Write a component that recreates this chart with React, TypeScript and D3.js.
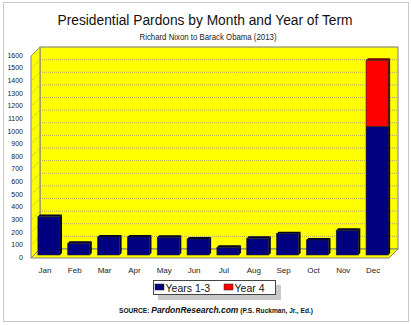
import React from "react";
import * as d3 from "d3";

const months = ["Jan", "Feb", "Mar", "Apr", "May", "Jun", "Jul", "Aug", "Sep", "Oct", "Nov", "Dec"];
const years13 = [304, 93, 143, 143, 140, 127, 61, 132, 169, 119, 196, 1018];
const year4 = [0, 0, 0, 0, 0, 0, 0, 0, 0, 0, 0, 524];
const yTicks = [0, 100, 200, 300, 400, 500, 600, 700, 800, 900, 1000, 1100, 1200, 1300, 1400, 1500, 1600];
const seriesNames = ["Years 1-3", "Year 4"];
const seriesColors = ["#000080", "#ff0000"];
const seriesSide = ["#00002a", "#6a0000"];

const FONT = "'Liberation Sans', Arial, Helvetica, sans-serif";

export default function App() {
  const W = 411, H = 325;
  const backL = 40, backR = 398, backT = 47, backB = 249;
  const DX = -9, DY = 9; // front offset
  const BD = 6; // bar depth position
  const yBack = d3.scaleLinear().domain([0, 1600]).range([backB, backT]);
  const x = d3.scaleBand<string>().domain(months).range([backL - BD, backR - BD]).paddingInner(0.26).paddingOuter(0.13);
  const bw = x.bandwidth();
  const sd = 2; // bar side depth

  const stacks = months.map((m, i) => {
    const segs = [] as { y0: number; y1: number; s: number }[];
    let acc = 0;
    [years13[i], year4[i]].forEach((v, s) => {
      if (v > 0) { segs.push({ y0: acc, y1: acc + v, s }); acc += v; }
    });
    return { m, segs, total: acc };
  });

  return (
    <svg width={W} height={H} style={{ position: "absolute", left: 0, top: 0, background: "#fff" }} fontFamily={FONT}>
      <rect x={3.5} y={2.5} width={405} height={319} fill="#fff" stroke="#c8c8c8" strokeWidth={1} />
      <text x={205} y={25} textAnchor="middle" fontSize={15.5} textLength={295} lengthAdjust="spacingAndGlyphs" fill="#111">Presidential Pardons by Month and Year of Term</text>
      <text x={208} y={40} textAnchor="middle" fontSize={9} textLength={137} lengthAdjust="spacingAndGlyphs" fill="#222">Richard Nixon to Barack Obama (2013)</text>

      {/* back wall */}
      <rect x={backL} y={backT} width={backR - backL} height={backB - backT} fill="#ffff00" stroke="#808080" strokeWidth={1} />
      {/* left wall */}
      <path d={`M${backL},${backT} L${backL + DX},${backT + DY} L${backL + DX},${backB + DY} L${backL},${backB} Z`} fill="#ffff00" stroke="#808080" strokeWidth={1} />
      {/* floor */}
      <path d={`M${backL},${backB} L${backR},${backB} L${backR + DX},${backB + DY} L${backL + DX},${backB + DY} Z`} fill="#ffff00" stroke="#808080" strokeWidth={1} />

      {yTicks.filter(t => t > 0).map(t => (
        <g key={t}>
          <line x1={backL} x2={backR} y1={yBack(t)} y2={yBack(t)} stroke="#a8a860" strokeDasharray="1,1" strokeWidth={1} />
          <line x1={backL + DX} x2={backL} y1={yBack(t) + DY} y2={yBack(t)} stroke="#a8a860" strokeDasharray="1,1" strokeWidth={1} />
        </g>
      ))}

      {yTicks.map(t => (
        <text key={t} x={23} y={yBack(t) + DY} textAnchor="end" dominantBaseline="middle" fontSize={7} fill="#222">{t}</text>
      ))}

      {stacks.map(st => {
        const x0 = x(st.m)!;
        const topY = yBack(st.total) + BD;
        const topSeg = st.segs[st.segs.length - 1];
        return (
          <g key={st.m}>
            {st.segs.map(sg => {
              const ya = yBack(sg.y0) + BD, yb = yBack(sg.y1) + BD;
              return <path key={"s" + sg.s} d={`M${x0 + bw},${ya} L${x0 + bw},${yb} L${x0 + bw + sd},${yb - sd} L${x0 + bw + sd},${ya - sd} Z`} fill={seriesSide[sg.s]} />;
            })}
            <path d={`M${x0},${topY} L${x0 + sd},${topY - sd} L${x0 + bw + sd},${topY - sd} L${x0 + bw},${topY} Z`} fill={seriesSide[topSeg.s]} />
            {st.segs.map(sg => {
              const ya = yBack(sg.y0) + BD, yb = yBack(sg.y1) + BD;
              return <rect key={sg.s} x={x0} y={yb} width={bw} height={ya - yb} fill={seriesColors[sg.s]} stroke="#202020" strokeWidth={0.6} />;
            })}
          </g>
        );
      })}

      {months.map(m => (
        <text key={m} x={x(m)! + bw / 2 - 4} y={273} textAnchor="middle" fontSize={8} fill="#222">{m}</text>
      ))}

      {/* legend */}
      <rect x={158} y={285} width={123} height={15} fill="#c8c8c8" />
      <rect x={153.5} y={280.5} width={122} height={14} fill="#fff" stroke="#444" strokeWidth={1} />
      {seriesNames.map((n, i) => {
        const lx = i === 0 ? 155 : 224;
        return (
          <g key={n}>
            <rect x={lx} y={284} width={9} height={6} fill={seriesColors[i]} stroke="#222" strokeWidth={0.5} />
            <text x={lx + 10.5} y={291.5} fontSize={10.5} fill="#111">{n}</text>
          </g>
        );
      })}

      <text x={216} y={313} textAnchor="middle" fontWeight="bold" fill="#111" textLength={194} lengthAdjust="spacingAndGlyphs">
        <tspan fontSize={7}>SOURCE: </tspan>
        <tspan fontSize={9} fontStyle="italic">PardonResearch.com</tspan>
        <tspan fontSize={7}> (P.S. Ruckman, Jr., Ed.)</tspan>
      </text>
    </svg>
  );
}
